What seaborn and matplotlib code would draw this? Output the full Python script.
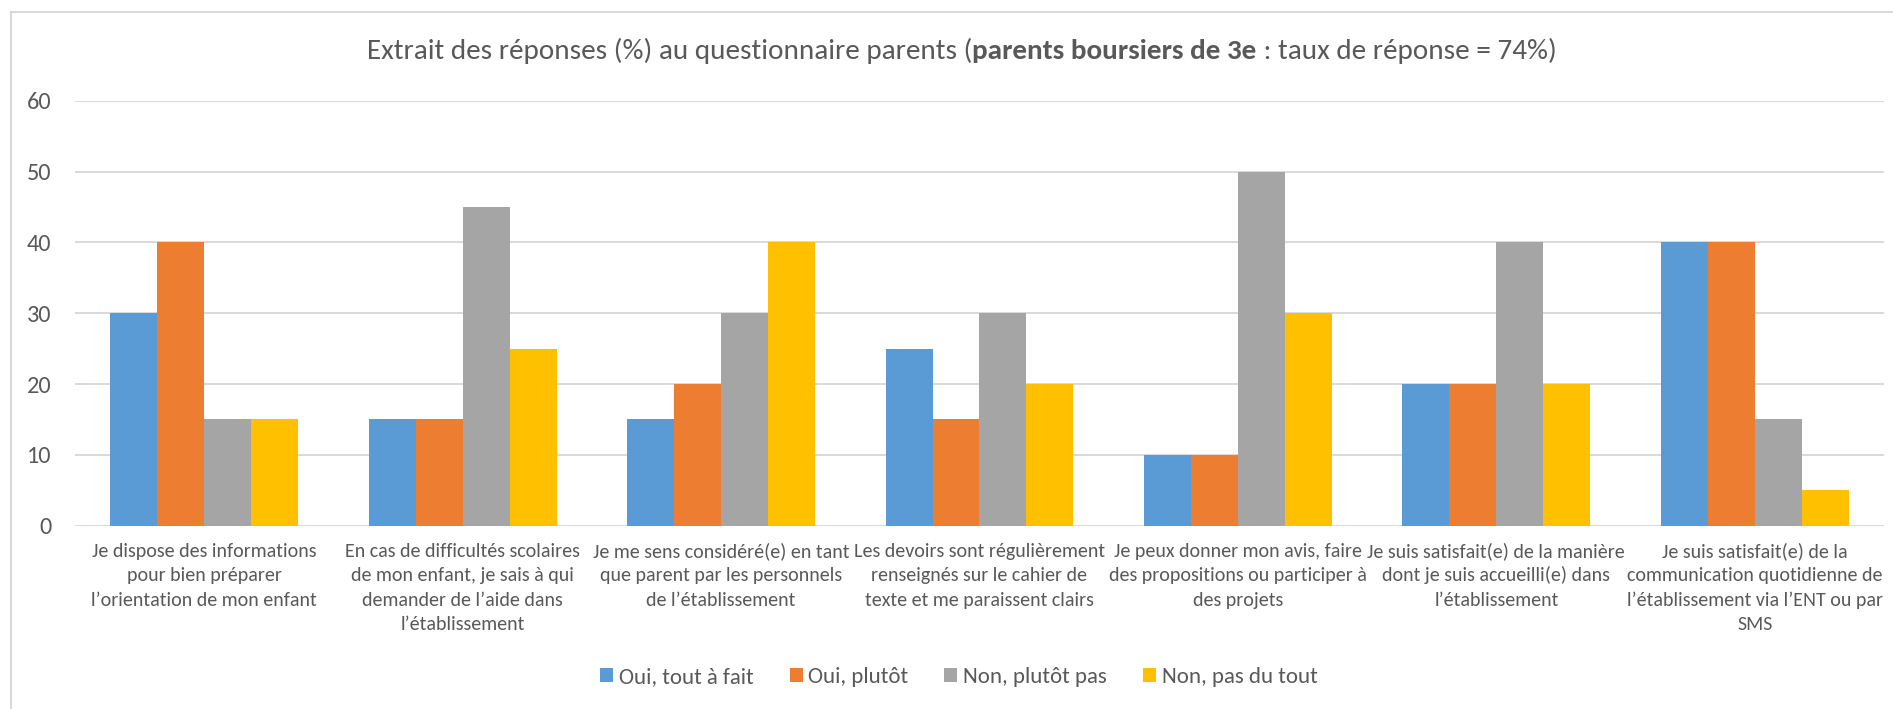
"""
Recreates the Excel-style grouped bar chart of the parents' survey answers.
Saves out.png (1893x709).
"""

import matplotlib
matplotlib.use("Agg")

import matplotlib.pyplot as plt
import matplotlib.transforms as mtransforms
import pandas as pd
import seaborn as sns
from matplotlib.patches import Rectangle

# --- data ---
questions = [
    "Je dispose des informations\npour bien préparer\nl’orientation de mon enfant",
    "En cas de difficultés scolaires\nde mon enfant, je sais à qui\ndemander de l’aide dans\nl’établissement",
    "Je me sens considéré(e) en tant\nque parent par les personnels\nde l’établissement",
    "Les devoirs sont régulièrement\nrenseignés sur le cahier de\ntexte et me paraissent clairs",
    "Je peux donner mon avis, faire\ndes propositions ou participer à\ndes projets",
    "Je suis satisfait(e) de la manière\ndont je suis accueilli(e) dans\nl’établissement",
    "Je suis satisfait(e) de la\ncommunication quotidienne de\nl’établissement via l’ENT ou par\nSMS",
]
answers = ["Oui, tout à fait", "Oui, plutôt", "Non, plutôt pas", "Non, pas du tout"]
oui_tout_a_fait = [30, 15, 15, 25, 10, 20, 40]
oui_plutot = [40, 15, 20, 15, 10, 20, 40]
non_plutot_pas = [15, 45, 30, 30, 50, 40, 15]
non_pas_du_tout = [15, 25, 40, 20, 30, 20, 5]
y_ticks = [0, 10, 20, 30, 40, 50, 60]

colors = ["#5B9BD5", "#ED7D31", "#A5A5A5", "#FFC000"]
TEXT = "#595959"
GRID = "#D9D9D9"
W, H = 1893, 709

# Carlito has the same metrics as Calibri, the Excel default
plt.rcParams["font.family"] = ["Carlito", "DejaVu Sans"]

# long-form table for seaborn
series = [oui_tout_a_fait, oui_plutot, non_plutot_pas, non_pas_du_tout]
rows = []
for ans, vals in zip(answers, series):
    for q, v in zip(questions, vals):
        rows.append({"question": q, "answer": ans, "value": v})
df = pd.DataFrame(rows)

fig = plt.figure(figsize=(W / 100, H / 100), dpi=100)
ax = fig.add_axes([75 / W, 1 - 525.7 / H, (1884 - 75) / W, 425 / H])

sns.barplot(data=df, x="question", y="value", hue="answer",
            order=questions, hue_order=answers, palette=colors,
            saturation=1, width=0.727, gap=0, errorbar=None,
            linewidth=0, ax=ax, zorder=3)

ax.set_ylim(0, 60)
ax.set_xlim(-0.5, len(questions) - 0.5)
ax.set_yticks(y_ticks)
ax.set_xlabel("")
ax.set_ylabel("")
ax.yaxis.grid(True, color=GRID, linewidth=1.4, zorder=0)
ax.set_axisbelow(True)
for s in ax.spines.values():
    s.set_visible(False)
ax.tick_params(axis="both", length=0, colors=TEXT)
ax.tick_params(axis="y", pad=17, labelsize=17.5)
ax.tick_params(axis="x", labelbottom=False)

# category labels: one text per line so the Excel line pitch is kept exactly
lbl_trans = mtransforms.blended_transform_factory(ax.transData, fig.transFigure)
for i, q in enumerate(questions):
    for j, line in enumerate(q.split("\n")):
        ax.text(i, 1 - (557 + 24.5 * j) / H, line, transform=lbl_trans,
                ha="center", va="baseline", fontsize=14.4, color=TEXT)

# legend below the labels
handles, labels = ax.get_legend_handles_labels()
ax.legend(handles, labels, ncol=4, loc="center", bbox_to_anchor=(0.5065, 1 - 677 / H),
          bbox_transform=fig.transFigure, frameon=False, fontsize=16.5,
          handlelength=0.57, handleheight=0.57, handletextpad=0.25,
          columnspacing=1.57, labelcolor=TEXT)

# title with a bold middle part, centred as a whole
title_parts = [("Extrait des réponses (%) au questionnaire parents (", "normal"),
               ("parents boursiers de 3e", "bold"),
               (" : taux de réponse = 74%)", "normal")]
texts = [fig.text(0, 1 - 51 / H, s, fontsize=21, fontweight=w, color=TEXT,
                  va="center", ha="left") for s, w in title_parts]
renderer = fig.canvas.get_renderer()
widths = [t.get_window_extent(renderer).width for t in texts]
x = (fig.bbox.width * 0.508) - sum(widths) / 2
for t, w in zip(texts, widths):
    t.set_x(x / fig.bbox.width)
    x += w

# light frame around the chart area
fig.add_artist(Rectangle((11 / W, -0.2), 1.2, 1.2 - 12 / H, transform=fig.transFigure,
                         fill=False, edgecolor=GRID, linewidth=1.5))

fig.savefig("out.png", dpi=100)
plt.close(fig)
